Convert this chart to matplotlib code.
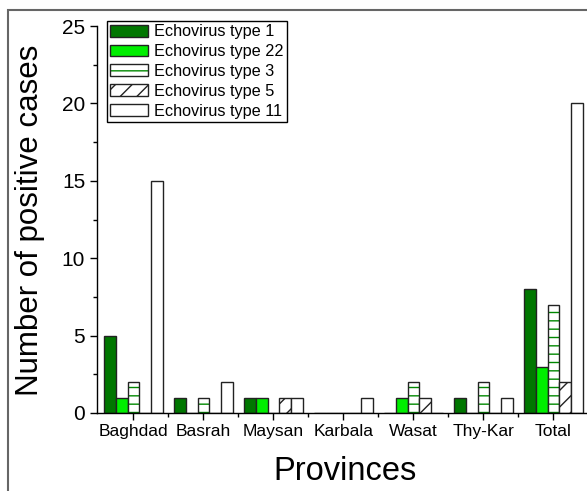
import numpy as np
import matplotlib
matplotlib.use('Agg')
import matplotlib.pyplot as plt
from matplotlib.patches import Rectangle
from matplotlib.legend_handler import HandlerTuple

plt.rcParams['font.family'] = ['Liberation Sans', 'DejaVu Sans']
plt.rcParams['hatch.linewidth'] = 1.0

provinces = ['Baghdad', 'Basrah', 'Maysan', 'Karbala', 'Wasat', 'Thy-Kar', 'Total']
types = ['Echovirus type 1', 'Echovirus type 22', 'Echovirus type 3',
         'Echovirus type 5', 'Echovirus type 11']
type1 = [5, 1, 1, 0, 0, 1, 8]
type22 = [1, 0, 1, 0, 1, 0, 3]
type3 = [2, 1, 0, 0, 2, 2, 7]
type5 = [0, 0, 1, 0, 1, 0, 2]
type11 = [15, 2, 1, 1, 0, 1, 20]

W, H = 587, 491
fig = plt.figure(figsize=(W / 100, H / 100), dpi=100)
ax = fig.add_axes([97 / W, 1 - 413 / H, (W - 97) / W, (413 - 26) / H])

x = np.arange(len(provinces))
bw = 0.167
edge = '#222222'

h1 = ax.bar(x - 2 * bw, type1, bw, color='#007700', edgecolor=edge, lw=1)
h22 = ax.bar(x - bw, type22, bw, color='#00ee00', edgecolor=edge, lw=1)
h3a = ax.bar(x, type3, bw, color='white', edgecolor='#008800', hatch='--', lw=0)
h3b = ax.bar(x, type3, bw, fill=False, edgecolor=edge, lw=1)
h5 = ax.bar(x + bw, type5, bw, color='white', edgecolor=edge, hatch='//', lw=1)
h11 = ax.bar(x + 2 * bw, type11, bw, color='white', edgecolor=edge, lw=1)

ax.set_xlim(-0.52, 6.48)
ax.set_ylim(0, 25)
ax.set_xticks(x)
ax.set_xticklabels(provinces, fontsize=12.5)
ax.set_xticks(x[:-1] + 0.5, minor=True)
ax.set_yticks(np.arange(0, 26, 5))
ax.set_yticks(np.arange(2.5, 25, 5), minor=True)
ax.tick_params(axis='y', labelsize=15, length=5, width=1, pad=3.5)
ax.tick_params(axis='x', length=5, width=1, pad=3)
ax.tick_params(which='minor', length=3, width=1)
for s in ['top', 'right']:
    ax.spines[s].set_visible(False)
for s in ['left', 'bottom']:
    ax.spines[s].set_linewidth(1)

fig.text(30 / W, 1 - 220 / H, 'Number of positive cases', rotation=90,
         fontsize=22.5, ha='center', va='center')
fig.text(345 / W, 1 - 472 / H, 'Provinces', fontsize=23.5, ha='center', va='center')

leg = fig.legend([h1, h22, (h3a, h3b), h5, h11], types,
                 handler_map={tuple: HandlerTuple(ndivide=1, pad=0)},
                 loc='upper left', bbox_to_anchor=(107 / W, 1 - 21 / H),
                 fontsize=11.7, frameon=True, fancybox=False, framealpha=1,
                 edgecolor='black', borderpad=0.2, labelspacing=0.3,
                 handlelength=2.3, handleheight=0.75, handletextpad=0.4,
                 borderaxespad=0)
leg.get_frame().set_linewidth(1)

fig.patches.append(Rectangle((8 / W, -0.1), 1.2, 1 - 10 / H + 0.1,
                             transform=fig.transFigure, fill=False,
                             edgecolor='#666666', lw=1.5))

fig.savefig('out.png', dpi=100)
